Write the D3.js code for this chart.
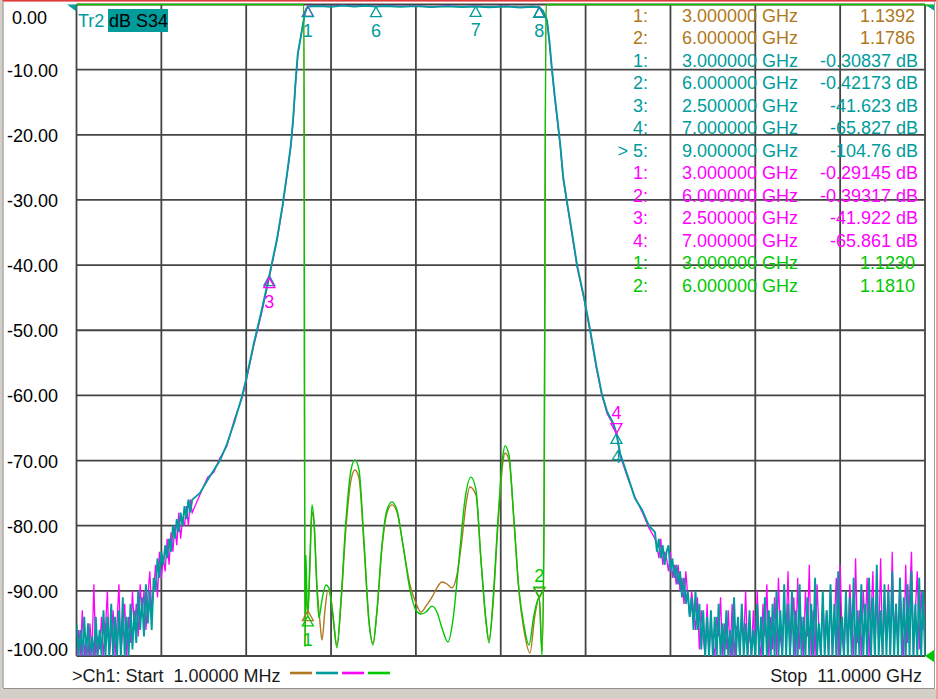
<!DOCTYPE html>
<html><head><meta charset="utf-8">
<script src="https://cdn.jsdelivr.net/npm/d3@7"></script>
<style>
body{margin:0;background:#fff;}
svg{display:block;font-family:"Liberation Sans",Arial,sans-serif;}
</style>
</head><body>
<svg id="c" width="938" height="699"></svg>
<script>
// ---------------- DATA ----------------
const startGHz = 0.001, stopGHz = 11.0;
const dbTicks = [0, -10, -20, -30, -40, -50, -60, -70, -80, -90, -100];
const swrRef = 1.0, swrTop = 3.0;

// noise sections (uniform sweep step)
const noiseStep = 0.025;
const lowNoiseStart = 0.001;
const tealLowNoise = [-95,-104,-96,-101,-94,-106,-95,-102,-97,-108,-94,-101,-96,
  -103,-93,-101,-94,-105,-92,-100,-94,-107,-93,-101,-91,-102,-94,-100,-92,-99,-93,
  -98,-90,-96,-91,-97,-89,-95,-90,-96,-88,
  -90,-85,-88,-84,-86,-83,-85,-82,
  -84,-80,-82,-79,-81,-78,-80,-77,-79,-76,-78,-76];
const magentaLowNoise = [-101,-96,-108,-93,-103,-97,-110,-95,-100,-89,-104,-97,-99,
  -94,-106,-96,-90,-101,-97,-93,-104,-95,-89,-100,-96,-92,-103,-94,-98,-90,-96,
  -92,-97,-89,-94,-90,-96,-91,-87,-93,-90,
  -86,-91,-84,-88,-85,-87,-82,-86,
  -81,-84,-80,-83,-78,-82,-79,-80,-77,-80,-76,-78];
const highNoiseStart = 7.5;
const tealHighNoise = [-81,-84,-82,-85,-83,-86,-84,-83,-87,-85,-88,
  -86,-89,-87,-91,-88,-92,-90,-94,-91,-96,
  -90,-96,-92,-99,-93,-101,-94,-102,-93,-100,
  -94,-103,-92,-106,-95,-101,-93,-108,-96,-102,-91,-104,-94,-100,-92,-107,-95,-102,-93,-105,
  -96,-101,-92,-104,-94,-103,-91,-100,-93,-104.76,-92,-106,-90,-101,-93,-108,-89,-102,-92,-100,
  -90,-104,-93,-101,-89,-107,-94,-102,-91,-100,-92,-105,-88,-103,-95,-101,-90,-108,-93,-102,
  -89,-101,-92,-106,-87,-103,-94,-100,-90,-107,-91,-102,-88,-104,-93,-100,-89,-109,-92,-101,
  -88,-103,-91,-100,-86,-105,-93,-102,-89,-101,-90,-107,-87,-100,-92,-104,-88,-102,-91,-106,
  -89,-101,-87,-104,-92,-100,-88,-103,-90,-101];
const magentaHighNoise = [-82,-83,-85,-82,-86,-84,-85,-87,-84,-88,-86,
  -89,-86,-90,-88,-92,-87,-91,-94,-90,-93,
  -96,-91,-99,-93,-97,-104,-92,-100,-95,-98,
  -102,-94,-97,-91,-106,-95,-99,-93,-104,-92,-100,-96,-95,-109,-93,-98,-90,-103,-96,-101,
  -93,-100,-90,-98,-105,-92,-97,-89,-103,-94,-99,-91,-106,-88,-97,-102,-93,-96,-87,-104,
  -95,-91,-101,-88,-99,-94,-105,-90,-97,-86,-102,-93,-100,-89,-96,-107,-91,-98,-93,-100,
  -90,-103,-95,-88,-100,-86,-97,-104,-92,-99,-89,-95,-101,-85,-98,-93,-105,-90,-96,-88,
  -100,-94,-87,-103,-91,-98,-85,-101,-93,-96,-89,-104,-84,-97,-92,-99,-88,-95,-102,-86,
  -98,-91,-84,-100,-93,-87,-99,-90,-96,-92];

// filter skirts and passband (GHz / dB)
const skirtFreq = [1.6,1.7,1.78,1.86,1.95,2.05,2.15,2.2,2.3,2.4,
  2.5,2.6,2.67,2.73,2.78,2.81,2.84,2.87,2.9,2.93,2.96,2.98,
  3.0,3.15,3.3,3.45,3.6,3.75,3.883,4.0,4.2,4.4,4.6,4.8,5.0,5.175,5.35,5.55,5.75,5.9,
  6.0,6.05,6.1,6.13,6.165,6.2,6.232,6.27,6.31,6.355,6.42,6.49,6.58,6.66,6.74,6.81,6.88,6.96,7.0,7.05,7.15,7.24,7.33,7.42];
const tealSkirtDb = [-75,-73,-71.5,-70,-67.5,-64,-60,-57.5,-52,-47,
  -41.623,-36,-31,-26,-21.5,-17.5,-12,-7.5,-5.5,-3.5,-1.5,-0.7,
  -0.30837,-0.22,-0.35,-0.18,-0.3,-0.2,-0.32,-0.22,-0.35,-0.25,-0.4,-0.28,-0.38,-0.3,-0.42,-0.3,-0.45,-0.35,
  -0.42173,-1.0,-2.4,-5.5,-10,-14,-17.3,-21.3,-26.5,-30,-34.7,-40,-45,-50,-55.5,-59.7,-62.5,-64.3,-65.827,-69,-72.5,-75.8,-77.5,-80];
const magentaSkirtDb = [-75.3,-72.6,-71.8,-69.6,-67.8,-63.6,-60.3,-57.8,-52.3,-47.4,
  -41.922,-36.2,-31.3,-26.2,-21.8,-17.7,-12.3,-7.7,-5.6,-3.4,-1.4,-0.6,
  -0.29145,-0.15,-0.3,-0.1,-0.25,-0.12,-0.28,-0.15,-0.3,-0.2,-0.35,-0.22,-0.33,-0.25,-0.38,-0.24,-0.4,-0.3,
  -0.39317,-1.1,-2.6,-5.8,-10.3,-14.3,-17.6,-21.5,-26.8,-30.2,-35,-40.3,-45.2,-50.3,-55.8,-59.9,-62.8,-64.5,-65.861,-69.3,-72.8,-75.6,-77.8,-80.3];

// SWR traces
const greenFreq = [0.001,1.0,2.0,2.949,2.962,2.975,2.988,3.0,3.027,3.053,3.079,3.118,3.144,3.183,3.234,3.273,3.325,3.377,3.429,3.494,3.559,3.611,3.663,3.727,3.792,3.844,3.896,3.961,4.025,4.090,4.155,4.233,4.324,4.401,4.466,4.531,4.609,4.673,4.738,4.816,4.881,4.959,5.036,5.114,5.179,5.244,5.309,5.348,5.400,5.464,5.529,5.555,5.607,5.672,5.737,5.801,5.866,5.931,6.0,6.035,6.061,6.087,6.3,7.5,9.0,11.0];
const greenSwr = [28,21,12,3.5,1.028,1.310,1.172,1.123,1.295,1.464,1.417,1.203,1.117,1.172,1.218,1.209,1.126,1.025,1.172,1.417,1.571,1.602,1.571,1.356,1.111,1.034,1.141,1.341,1.448,1.473,1.448,1.341,1.203,1.141,1.129,1.135,1.153,1.135,1.086,1.043,1.111,1.295,1.479,1.549,1.510,1.295,1.111,1.040,1.172,1.417,1.617,1.645,1.617,1.417,1.203,1.095,1.034,1.126,1.181,1.000,1.427,3.5,7,16,30,38];
const brownFreq = [0.001,1.0,2.0,2.949,2.962,2.975,2.988,3.0,3.027,3.053,3.079,3.118,3.157,3.183,3.222,3.260,3.299,3.338,3.377,3.429,3.494,3.559,3.611,3.663,3.727,3.792,3.844,3.896,3.961,4.025,4.090,4.155,4.233,4.324,4.401,4.466,4.531,4.609,4.673,4.738,4.803,4.868,4.933,4.997,5.049,5.101,5.179,5.244,5.309,5.348,5.400,5.464,5.529,5.555,5.607,5.672,5.737,5.801,5.879,5.944,6.0,6.035,6.061,6.087,6.3,7.5,9.0,11.0];
const brownSwr = [27,20,11,3.4,1.034,1.264,1.157,1.1392,1.279,1.442,1.411,1.218,1.104,1.049,1.141,1.203,1.178,1.095,1.031,1.157,1.393,1.540,1.571,1.546,1.341,1.104,1.040,1.135,1.332,1.439,1.464,1.442,1.341,1.218,1.163,1.135,1.153,1.181,1.209,1.227,1.221,1.209,1.249,1.356,1.464,1.519,1.494,1.295,1.104,1.049,1.157,1.402,1.596,1.623,1.602,1.411,1.196,1.080,1.009,1.126,1.1786,1.018,1.387,3.4,7,15,29,37];

// markers
const brownMarkerFreq = [3, 6], brownMarkerVal = [1.1392, 1.1786];
const tealMarkerFreq = [3, 6, 2.5, 7, 9], tealMarkerVal = [-0.30837, -0.42173, -41.623, -65.827, -104.76];
const magentaMarkerFreq = [3, 6, 2.5, 7], magentaMarkerVal = [-0.29145, -0.39317, -41.922, -65.861];
const greenMarkerFreq = [3, 6], greenMarkerVal = [1.1230, 1.1810];
const tealExtraMarkerNum = [6, 7, 8], tealExtraMarkerFreq = [3.883, 5.175, 6.0], tealExtraMarkerVal = [-0.32, -0.30, -0.42];
const activeTealMarker = 5;

// ---------------- LAYOUT ----------------
const C = {teal:"#009c9c", magenta:"#ff00ff", green:"#00c800", brown:"#b07820", grid:"#444"};
const P = {left:76.5, right:925, top:4.5, bottom:656};
const svg = d3.select("#c");
const x = d3.scaleLinear().domain([startGHz, stopGHz]).range([P.left, P.right]);
const yDb = d3.scaleLinear().domain([d3.min(dbTicks), d3.max(dbTicks)]).range([P.bottom, P.top]).clamp(true);
const ySwr = d3.scaleLinear().domain([swrRef, swrTop]).range([P.bottom, P.top]).clamp(true);

// window chrome
svg.append("rect").attr("width",938).attr("height",699).attr("fill","#fff");
svg.append("rect").attr("x",0).attr("y",0).attr("width",938).attr("height",1.6).attr("fill","#e03a3a");
svg.append("rect").attr("x",0).attr("y",0).attr("width",2.5).attr("height",699).attr("fill","#d4d0c8");
svg.append("line").attr("x1",3).attr("x2",3).attr("y1",2).attr("y2",688).attr("stroke","#808080");
svg.append("rect").attr("x",0).attr("y",689).attr("width",938).attr("height",10).attr("fill","#d4d0c8");
svg.append("line").attr("x1",3).attr("x2",935).attr("y1",688.5).attr("y2",688.5).attr("stroke","#909090");
svg.append("line").attr("x1",934.5).attr("x2",934.5).attr("y1",2).attr("y2",689).attr("stroke","#a0a0a0");
svg.append("rect").attr("x",936).attr("y",0).attr("width",2).attr("height",699).attr("fill","#f0a0a0");

// grid
const gridFreqs = d3.range(11).map(i => startGHz + i * (stopGHz - startGHz) / 10);
const grid = svg.append("g").attr("stroke", C.grid).attr("stroke-width", 1.8);
grid.selectAll("line.v").data(gridFreqs).join("line").attr("class","v")
  .attr("x1", d => x(d)).attr("x2", d => x(d)).attr("y1", P.top).attr("y2", P.bottom);
grid.selectAll("line.h").data(dbTicks).join("line").attr("class","h")
  .attr("x1", P.left).attr("x2", P.right).attr("y1", d => yDb(d)).attr("y2", d => yDb(d));

// y labels
svg.append("g").selectAll("text").data(dbTicks).join("text")
  .attr("x", d => 7 + (d >= 0 ? 5 : 0))
  .attr("y", d => Math.min(Math.max(yDb(d) + 7, 24), P.bottom))
  .attr("font-size", 18).attr("fill", "#000")
  .text(d => d.toFixed(2));

// trace label
svg.append("text").attr("x",78).attr("y",27).attr("font-size",18).attr("fill",C.teal).text("Tr2");
svg.append("rect").attr("x",108).attr("y",9).attr("width",60).attr("height",23).attr("fill",C.teal);
svg.append("text").attr("x",109).attr("y",27).attr("font-size",18).attr("fill","#000").text("dB S34");

// marker table
const rows = [];
const fmtF = f => f.toFixed(6) + " GHz";
brownMarkerFreq.forEach((f,i) => rows.push({c:C.brown, n:(i+1)+":", f:fmtF(f), v:brownMarkerVal[i].toPrecision(5), db:false}));
tealMarkerFreq.forEach((f,i) => rows.push({c:C.teal, n:(i+1 === activeTealMarker ? "> " : "")+(i+1)+":", f:fmtF(f), v:tealMarkerVal[i].toPrecision(5)+" dB", db:true}));
magentaMarkerFreq.forEach((f,i) => rows.push({c:C.magenta, n:(i+1)+":", f:fmtF(f), v:magentaMarkerVal[i].toPrecision(5)+" dB", db:true}));
greenMarkerFreq.forEach((f,i) => rows.push({c:C.green, n:(i+1)+":", f:fmtF(f), v:greenMarkerVal[i].toPrecision(5), db:false}));
const tbl = svg.append("g").attr("font-size", 18);
rows.forEach((r,i) => {
  const yb = 21.7 + 22.5 * i;
  tbl.append("text").attr("x",648).attr("y",yb).attr("text-anchor","end").attr("fill",r.c).text(r.n);
  tbl.append("text").attr("x",682).attr("y",yb).attr("fill",r.c).text(r.f);
  tbl.append("text").attr("x",r.db ? 918 : 915).attr("y",yb).attr("text-anchor","end").attr("fill",r.c).text(r.v);
});

// traces
svg.append("clipPath").attr("id","pc").append("rect")
  .attr("x",P.left).attr("y",P.top-1).attr("width",P.right-P.left).attr("height",P.bottom-P.top+2);
const traces = svg.append("g").attr("clip-path","url(#pc)").attr("fill","none");
const lineDb = d3.line().x(d => x(d[0])).y(d => yDb(d[1]));
const lineSwr = d3.line().x(d => x(d[0])).y(d => ySwr(d[1])).curve(d3.curveMonotoneX);

const tealPts = [
  ...tealLowNoise.map((v,k) => [lowNoiseStart + k*noiseStep, v]),
  ...d3.zip(skirtFreq, tealSkirtDb),
  ...tealHighNoise.map((v,k) => [highNoiseStart + k*noiseStep, v])];
const magentaPts = [
  ...magentaLowNoise.map((v,k) => [lowNoiseStart + k*noiseStep, v]),
  ...d3.zip(skirtFreq, magentaSkirtDb),
  ...magentaHighNoise.map((v,k) => [highNoiseStart + k*noiseStep, v])];

traces.append("path").attr("d", lineSwr(d3.zip(brownFreq, brownSwr))).attr("stroke", C.brown).attr("stroke-width", 1.4);
traces.append("path").attr("d", lineDb(magentaPts)).attr("stroke", C.magenta).attr("stroke-width", 1.3);
traces.append("path").attr("d", lineDb(tealPts)).attr("stroke", C.teal).attr("stroke-width", 1.9).attr("stroke-linejoin","bevel");
traces.append("path").attr("d", lineSwr(d3.zip(greenFreq, greenSwr))).attr("stroke", C.green).attr("stroke-width", 1.4);

// markers
const mk = svg.append("g").attr("clip-path","url(#pc)").attr("font-size",18);
function drawMarker(px, py, color, label, above) {
  const s = above ? -1 : 1;
  mk.append("path").attr("d", `M${px},${py} L${px-5.5},${py+10*s} L${px+5.5},${py+10*s} Z`)
    .attr("fill","none").attr("stroke",color).attr("stroke-width",1.3);
  if (label !== null)
    mk.append("text").attr("x",px).attr("y", above ? py-15 : py+30).attr("text-anchor","middle")
      .attr("fill",color).text(label);
}
// covered markers are drawn without their labels
brownMarkerFreq.forEach((f,i) => drawMarker(x(f), ySwr(brownMarkerVal[i]), C.brown, null, i === 1));
magentaMarkerFreq.forEach((f,i) => { if (i < 2) drawMarker(x(f), yDb(magentaMarkerVal[i]), C.magenta, null, false); });
tealMarkerFreq.forEach((f,i) => {
  if (tealMarkerVal[i] <= d3.min(dbTicks)) return;
  const coveredLabel = (i === 1 || i === 2);
  drawMarker(x(f), yDb(tealMarkerVal[i]), C.teal, coveredLabel ? null : i+1, false);
});
tealExtraMarkerFreq.forEach((f,i) => drawMarker(x(f), yDb(tealExtraMarkerVal[i]), C.teal, tealExtraMarkerNum[i], false));
magentaMarkerFreq.forEach((f,i) => { if (i >= 2) drawMarker(x(f), yDb(magentaMarkerVal[i]), C.magenta, i+1, i === 3); });
greenMarkerFreq.forEach((f,i) => drawMarker(x(f), ySwr(greenMarkerVal[i]), C.green, i+1, i === 1));

// reference indicators
svg.append("path").attr("d", `M67,${P.top} L${P.left},${P.top} L${P.left},${P.top+7} Z`).attr("fill", C.teal);
svg.append("path").attr("d", `M${P.right},${P.top} L${P.right+9},${P.top} L${P.right+9},${P.top+6} Z`).attr("fill", C.teal);
svg.append("path").attr("d", `M${P.right},${P.top+1} L${P.right+8},${P.top+1}`).attr("stroke", C.green).attr("stroke-width",1.5);
svg.append("path").attr("d", `M${P.right},${ySwr(swrRef)} L${P.right+9},${ySwr(swrRef)-6} L${P.right+9},${ySwr(swrRef)+6} Z`).attr("fill", C.green);

// footer
const foot = svg.append("g").attr("font-size",18).attr("fill","#1a1a1a");
foot.append("text").attr("x",72).attr("y",682).text(">Ch1: Start\u00a0 " + (startGHz*1000).toFixed(5) + " MHz");
foot.append("text").attr("x",922).attr("y",682).attr("text-anchor","end").text("Stop\u00a0 " + stopGHz.toFixed(4) + " GHz");
const legendColors = [C.brown, C.teal, C.magenta, C.green];
svg.append("g").selectAll("line").data(legendColors).join("line")
  .attr("x1", (d,i) => 290 + i*26).attr("x2", (d,i) => 312 + i*26)
  .attr("y1", 673).attr("y2", 673).attr("stroke", d => d).attr("stroke-width", 2.6);
</script>
</body></html>
